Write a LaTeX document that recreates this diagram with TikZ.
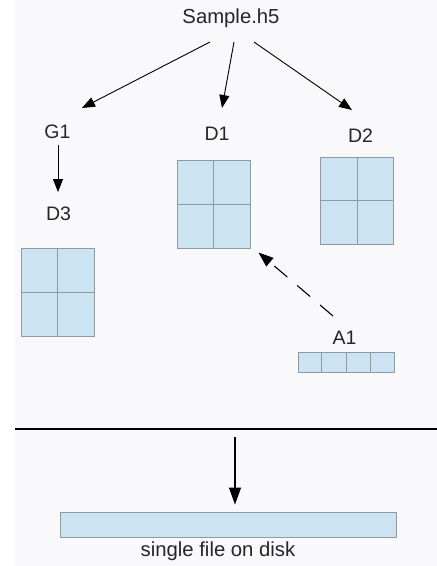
\documentclass[tikz,border=0pt]{standalone}
\usepackage{fontspec}
\setmainfont{Liberation Sans}
\usetikzlibrary{arrows.meta,calc}
\definecolor{bgc}{HTML}{F9F9FC}
\definecolor{cellfill}{HTML}{CCE4F2}
\definecolor{celledge}{HTML}{8E9AA3}
\definecolor{txt}{HTML}{262626}
\tikzset{
  lbl/.style={anchor=base, inner sep=0pt, text=txt, font=\fontsize{19.5}{22}\selectfont},
  cellbox/.style={draw=celledge, fill=cellfill, line width=1pt, inner sep=0pt, rectangle},
  cellline/.style={draw=celledge, line width=1pt},
  arr/.style={draw=black, line width=0.9pt, -{Triangle[length=13pt,width=10pt]}},
  bigarr/.style={draw=black, line width=1.2pt, -{Triangle[length=17pt,width=12pt]}},
  dasharr/.style={draw=black, line width=1.1pt, dash pattern=on 17pt off 13pt, -{Triangle[length=15pt,width=11pt]}},
}
\begin{document}
\begin{tikzpicture}[x=1pt,y=-1pt]
\useasboundingbox (0,0) rectangle (437,566);
\fill[white] (0,0) rectangle (437,566);
\fill[bgc] (15,0) rectangle (437,566);

% labels
\node[lbl, font=\fontsize{20.3}{24}\selectfont] (sample) at (231,23) {Sample.h5};
\node[lbl] (g1) at (57.5,138) {G1};
\node[lbl] (d1) at (217,140) {D1};
\node[lbl] (d2) at (360.5,142) {D2};
\node[lbl] (d3) at (58.5,220) {D3};
\node[lbl] (a1) at (344.5,344) {A1};
\node[lbl, font=\fontsize{20.3}{23}\selectfont] (disk) at (218,556) {single file on disk};

% dataset boxes
\node[cellbox, minimum width=73pt, minimum height=88pt] (d1box) at (213.5,204) {};
\draw[cellline] (d1box.north) -- (d1box.south) (d1box.west) -- (d1box.east);
\node[cellbox, minimum width=73pt, minimum height=87pt] (d2box) at (357,200.5) {};
\draw[cellline] (d2box.north) -- (d2box.south) (d2box.west) -- (d2box.east);
\node[cellbox, minimum width=73pt, minimum height=88pt] (d3box) at (57.5,292) {};
\draw[cellline] (d3box.north) -- (d3box.south) (d3box.west) -- (d3box.east);

% attribute bar
\node[cellbox, minimum width=96pt, minimum height=20pt] (a1box) at (346,362) {};
\draw[cellline] (a1box.north) -- (a1box.south)
  ($(a1box.north west)!0.25!(a1box.north east)$) -- ($(a1box.south west)!0.25!(a1box.south east)$)
  ($(a1box.north west)!0.75!(a1box.north east)$) -- ($(a1box.south west)!0.75!(a1box.south east)$);

% disk bar
\node[cellbox, minimum width=336pt, minimum height=25pt] (diskbar) at (228,524.5) {};

% connectors
\draw[arr] ([shift={(-21,19)}]sample.base) -- ([shift={(24.5,-30)}]g1.base);
\draw[arr] ([shift={(3,19)}]sample.base) -- ([shift={(5,-32)}]d1.base);
\draw[arr] ([shift={(23,19)}]sample.base) -- ([shift={(-8.5,-32)}]d2.base);
\draw[arr] ([shift={(0.5,7)}]g1.base) -- ([shift={(-0.5,-28)}]d3.base);
\draw[dasharr] ([shift={(-11.5,-28)}]a1.base) -- ([shift={(8,4)}]d1box.south east);

% divider
\draw[black, line width=1.8pt] (15,429) -- (437,429);
\coordinate (divtop) at (235,437);
\draw[bigarr] (divtop) -- ([shift={(7,-7)}]diskbar.north);
\end{tikzpicture}
\end{document}
